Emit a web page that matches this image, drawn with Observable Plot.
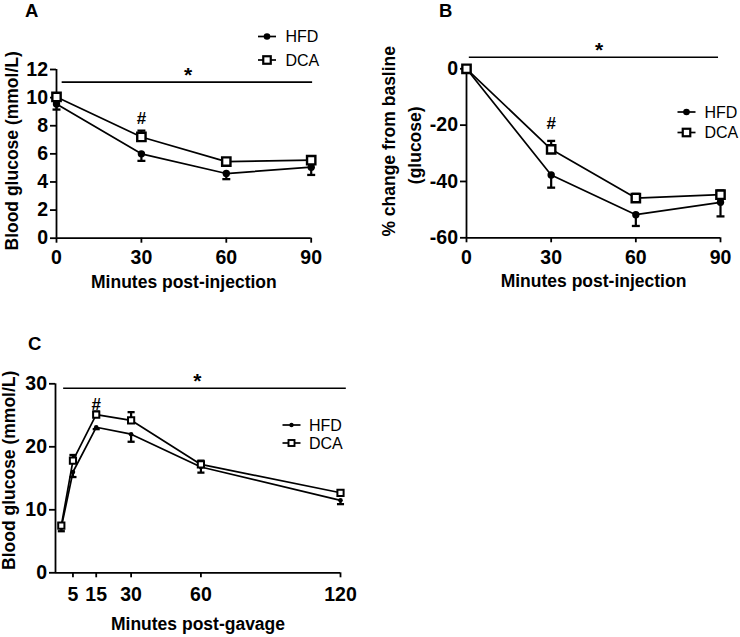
<!DOCTYPE html>
<html><head><meta charset="utf-8">
<script src="https://cdn.jsdelivr.net/npm/d3@7"></script>
<script src="https://cdn.jsdelivr.net/npm/@observablehq/plot@0.6"></script>
<style>
body{margin:0;background:#fff;}
#fig{position:relative;width:740px;height:637px;background:#fff;font-family:"Liberation Sans",Arial,sans-serif;color:#000;overflow:hidden}
#fig > svg{position:absolute}
</style></head><body><div id="fig"></div>
<script>
// ---------- Panel A: ITT blood glucose ----------
const timesA = [0, 30, 60, 90];
const hfdA = [9.55, 6.0, 4.6, 5.05];
const hfdAErr = [0.4, 0.5, 0.4, 0.55];
const dcaA = [10.05, 7.2, 5.45, 5.55];
const dcaAErr = [0.2, 0.45, 0.2, 0.25];
const xTicksA = [0, 30, 60, 90];
const yTicksA = [0, 2, 4, 6, 8, 10, 12];

// ---------- Panel B: % change from baseline ----------
const timesB = [0, 30, 60, 90];
const hfdB = [0, -37.7, -51.8, -47.4];
const hfdBErr = [0.5, 4.5, 4.0, 5.0];
const dcaB = [0, -28.6, -45.9, -44.7];
const dcaBErr = [0.5, 3.0, 1.5, 1.5];
const xTicksB = [0, 30, 60, 90];
const yTicksB = [-60, -40, -20, 0];

// ---------- Panel C: OGTT blood glucose ----------
const timesC = [0, 5, 15, 30, 60, 120];
const hfdC = [7.2, 16.0, 23.1, 22.0, 16.8, 11.5];
const hfdCErr = [0.6, 0.8, 0.3, 1.2, 0.9, 0.6];
const dcaC = [7.5, 17.8, 25.1, 24.2, 17.2, 12.7];
const dcaCErr = [0.3, 0.9, 0.5, 1.3, 0.6, 0.3];
const xTicksC = [5, 15, 30, 60, 120];
const yTicksC = [0, 10, 20, 30];

// significance annotations (data units)
const sigA = {x1: 2, x2: 90.5, y: 11.1, xStar: 46.5, hashX: 30, hashY: 8.1};
const sigB = {x1: 1, x2: 89.3, y: 4.1, xStar: 47, hashX: 30, hashY: -21.5};
const sigC = {x1: 1, x2: 122.5, y: 29.3, xStar: 58.5, hashX: 15, hashY: 25.9};

const seriesNames = ["HFD", "DCA"];

const FONT = '"Liberation Sans", Arial, sans-serif';
const TICK_FS = 19.5;
const capSymbol = {draw(ctx, size) { const w = Math.sqrt(size) / 2; ctx.moveTo(-w, 0); ctx.lineTo(w, 0); }};
const fmt = d => d < 0 ? "-" + Math.abs(d) : String(d);

function rows(times, vals, errs, dir) {
  return times.map((t, i) => ({t, v: vals[i], lo: dir < 0 ? vals[i] - errs[i] : vals[i], hi: dir < 0 ? vals[i] : vals[i] + errs[i], cap: dir < 0 ? vals[i] - errs[i] : vals[i] + errs[i]}));
}

function panel(o) {
  const H = rows(o.times, o.hfd, o.hfdErr, -1);
  const D = rows(o.times, o.dca, o.dcaErr, +1);
  const marks = [
    Plot.ruleY([o.yDomain[0]], {strokeWidth: 1.8}),
    Plot.ruleX([o.xDomain[0]], {strokeWidth: 1.8}),
    Plot.axisX({ticks: o.xTicks, tickSize: 5, strokeWidth: 1.8, label: null, fill: "none"}),
    Plot.axisY({ticks: o.yTicks, tickSize: 6, strokeWidth: 1.8, label: null, fill: "none"}),
    Plot.text(o.xTicks, {x: d => d, frameAnchor: "bottom", lineAnchor: "top", dy: o.xPad, text: fmt, fontSize: TICK_FS, fontWeight: "bold"}),
    Plot.text(o.yTicks, {y: d => d, frameAnchor: "left", textAnchor: "end", lineAnchor: "middle", dx: -8.5, text: fmt, fontSize: TICK_FS, fontWeight: "bold"}),
    Plot.ruleY([o.sig], {x1: "x1", x2: "x2", y: "y", strokeWidth: 1.6}),
    Plot.text([o.sig], {x: "xStar", y: "y", text: () => "*", lineAnchor: "bottom", fontSize: 21, fontWeight: "bold"}),
    Plot.text([o.sig], {x: "hashX", y: "hashY", text: () => "#", lineAnchor: "bottom", fontSize: 17, fontWeight: "bold"}),
    Plot.ruleX(H, {x: "t", y1: "lo", y2: "hi", strokeWidth: 2.2}),
    Plot.ruleX(D, {x: "t", y1: "lo", y2: "hi", strokeWidth: 2.2}),
    Plot.dot(H, {x: "t", y: "cap", symbol: capSymbol, r: o.capR, stroke: "black", strokeWidth: 2.3, fill: "none"}),
    Plot.dot(D, {x: "t", y: "cap", symbol: capSymbol, r: o.capR, stroke: "black", strokeWidth: 2.3, fill: "none"}),
    Plot.line(H, {x: "t", y: "v", strokeWidth: 1.7, stroke: "black"}),
    Plot.line(D, {x: "t", y: "v", strokeWidth: 1.7, stroke: "black"}),
    Plot.dot(H, {x: "t", y: "v", r: o.dotR, fill: "black", stroke: "none"}),
    Plot.dot(D, {x: "t", y: "v", symbol: "square", r: o.sqR, fill: "white", stroke: "black", strokeWidth: o.sqW}),
    Plot.text([o.xLabel], {frameAnchor: "bottom", lineAnchor: "top", dy: o.xLabelDy, fontSize: 17.5, fontWeight: "bold"})
  ];
  o.yLabels.forEach(l => marks.push(Plot.text([l.text], {frameAnchor: "left", rotate: -90, textAnchor: "middle", lineAnchor: "top", dx: l.dx, dy: l.dy, fontSize: 17.5, fontWeight: "bold"})));
  const svg = Plot.plot({
    width: o.width, height: o.height,
    marginLeft: o.ml, marginRight: o.mr, marginTop: o.mt, marginBottom: o.mb,
    x: {domain: o.xDomain},
    y: {domain: o.yDomain},
    style: {fontFamily: FONT, fontWeight: "bold", color: "black", background: "transparent", overflow: "visible"},
    marks
  });
  svg.style.left = o.left + "px";
  svg.style.top = o.top + "px";
  svg.style.position = "absolute";
  document.getElementById("fig").appendChild(svg);
}

panel({left: 0, top: 0, width: 370, height: 300, ml: 56, mr: 59.3, mt: 69, mb: 62.3,
  xDomain: [0, 90], yDomain: [0, 12], xTicks: xTicksA, yTicks: yTicksA, xPad: 12,
  times: timesA, hfd: hfdA, hfdErr: hfdAErr, dca: dcaA, dcaErr: dcaAErr,
  dotR: 3.7, sqR: 4.7, sqW: 2.4, capR: 4.5, sig: sigA,
  xLabel: "Minutes post-injection", xLabelDy: 37,
  yLabels: [{text: "Blood glucose (mmol/L)", dx: -51, dy: -3}]});

panel({left: 370, top: 0, width: 370, height: 300, ml: 96, mr: 20, mt: 68.3, mb: 62.7,
  xDomain: [0, 90], yDomain: [-60, 0], xTicks: xTicksB, yTicks: yTicksB, xPad: 12,
  times: timesB, hfd: hfdB, hfdErr: hfdBErr, dca: dcaB, dcaErr: dcaBErr,
  dotR: 3.7, sqR: 4.7, sqW: 2.4, capR: 4.5, sig: sigB,
  xLabel: "Minutes post-injection", xLabelDy: 37,
  yLabels: [{text: "% change from basline", dx: -84, dy: -12}, {text: "(glucose)", dx: -58, dy: -8}]});

panel({left: 0, top: 330, width: 420, height: 307, ml: 55, mr: 80, mt: 53.3, mb: 64.7,
  xDomain: [-2.5, 120], yDomain: [0, 30], xTicks: xTicksC, yTicks: yTicksC, xPad: 14,
  times: timesC, hfd: hfdC, hfdErr: hfdCErr, dca: dcaC, dcaErr: dcaCErr,
  dotR: 2.3, sqR: 3.5, sqW: 2.0, capR: 4, sig: sigC,
  xLabel: "Minutes post-gavage", xLabelDy: 45,
  yLabels: [{text: "Blood glucose (mmol/L)", dx: -53, dy: -8}]});

// ---------- overlay: panel letters and legends ----------
const ov = d3.select("#fig").append("svg").attr("width", 740).attr("height", 637)
  .style("left", "0px").style("top", "0px").style("pointer-events", "none")
  .attr("font-family", FONT);

[["A", 25, 16.5], ["B", 439, 16.5], ["C", 28, 350]].forEach(([t, x, y]) =>
  ov.append("text").attr("x", x).attr("y", y).attr("font-size", 18.5).attr("font-weight", "bold").text(t));

function legend(cx, yH, yD, tx, r, s, sw, fs) {
  const g = ov.append("g");
  [yH, yD].forEach(y => g.append("line").attr("x1", cx - 9).attr("x2", cx + 9).attr("y1", y).attr("y2", y).attr("stroke", "black").attr("stroke-width", 1.7));
  g.append("circle").attr("cx", cx).attr("cy", yH).attr("r", r).attr("fill", "black");
  g.append("rect").attr("x", cx - s / 2).attr("y", yD - s / 2).attr("width", s).attr("height", s).attr("fill", "white").attr("stroke", "black").attr("stroke-width", sw);
  [yH, yD].forEach((y, i) => g.append("text").attr("x", tx).attr("y", y).attr("dy", "0.36em").attr("font-size", fs).text(seriesNames[i]));
}
legend(267, 36.5, 60, 285.5, 3.3, 7.5, 2.2, 16);
legend(686.5, 112, 132.5, 704.5, 3.3, 7.5, 2.2, 16);
legend(291.5, 425, 443, 309, 2.2, 6, 1.9, 16);
</script></body></html>
